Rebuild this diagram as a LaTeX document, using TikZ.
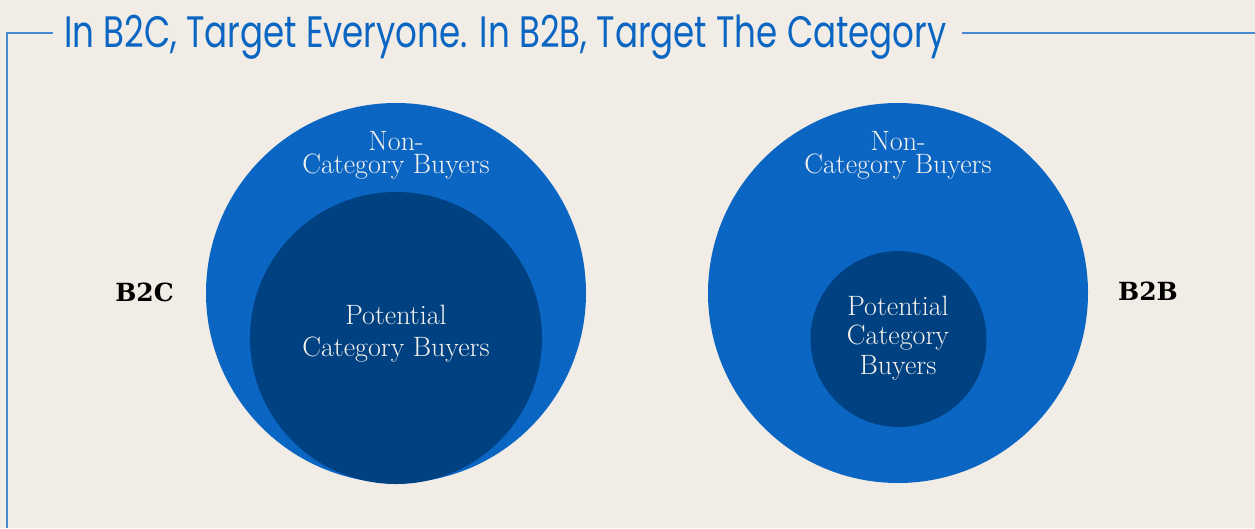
\documentclass[tikz,border=0pt]{standalone}
\usepackage{fontspec}
\newfontfamily\titlefont{Poppins}[FakeStretch=0.775]
\newfontfamily\labelfont{DejaVu Serif}
\definecolor{bgc}{RGB}{241,236,230}
\definecolor{midblue}{RGB}{11,102,195}
\definecolor{darkblue}{RGB}{0,65,130}
\definecolor{titleblue}{RGB}{10,102,194}
\definecolor{framec}{RGB}{70,136,210}
\definecolor{paletext}{RGB}{246,243,239}
\tikzset{
  outerc/.style={circle, fill=midblue, inner sep=0pt, minimum size=380pt},
  innerc/.style={circle, fill=darkblue, inner sep=0pt},
  wtxt/.style={anchor=base, inner sep=0pt, align=center, text=paletext, font=\fontsize{28}{23}\selectfont},
  sidelbl/.style={anchor=base, inner sep=0pt, text=black, font=\labelfont\bfseries\fontsize{25}{25}\selectfont},
  frameline/.style={draw=framec, line width=2pt}
}
\begin{document}
\begin{tikzpicture}[x=1pt,y=-1pt]
\fill[bgc] (0,0) rectangle (1255,528);
\useasboundingbox (0,0) rectangle (1255,528);
% title and frame
\node[anchor=base, inner sep=0pt, text=titleblue, font=\titlefont\fontsize{44}{44}\selectfont] (title) at (505.5,47) {In B2C, Target Everyone. In B2B, Target The Category};
\coordinate (fl1) at (53,33);
\coordinate (fc) at (7,33);
\coordinate (fb) at (7,528);
\coordinate (fr1) at (962,33);
\coordinate (fr2) at (1255,33);
\draw[frameline] (fl1) -- (fc) -- (fb);
\draw[frameline] (fr1) -- (fr2);
% B2C
\node[outerc] (b2cout) at (396,293) {};
\node[innerc, minimum size=292pt] (b2cin) at (396,338) {};
\node[wtxt] (l1) at (396,173) {Non-\\Category Buyers};
\node[wtxt, font=\fontsize{28}{32.5}\selectfont] (l2) at (396,356.5) {Potential\\Category Buyers};
\node[sidelbl] (b2c) at (144.5,301) {B2C};
% B2B
\node[outerc] (b2bout) at (898,293) {};
\node[innerc, minimum size=176pt] (b2bin) at (898.5,339) {};
\node[wtxt] (r1) at (898,173) {Non-\\Category Buyers};
\node[wtxt, font=\fontsize{28}{29.5}\selectfont] (r2) at (898,374) {Potential\\Category\\Buyers};
\node[sidelbl] (b2b) at (1148,300) {B2B};
\end{tikzpicture}
\end{document}
